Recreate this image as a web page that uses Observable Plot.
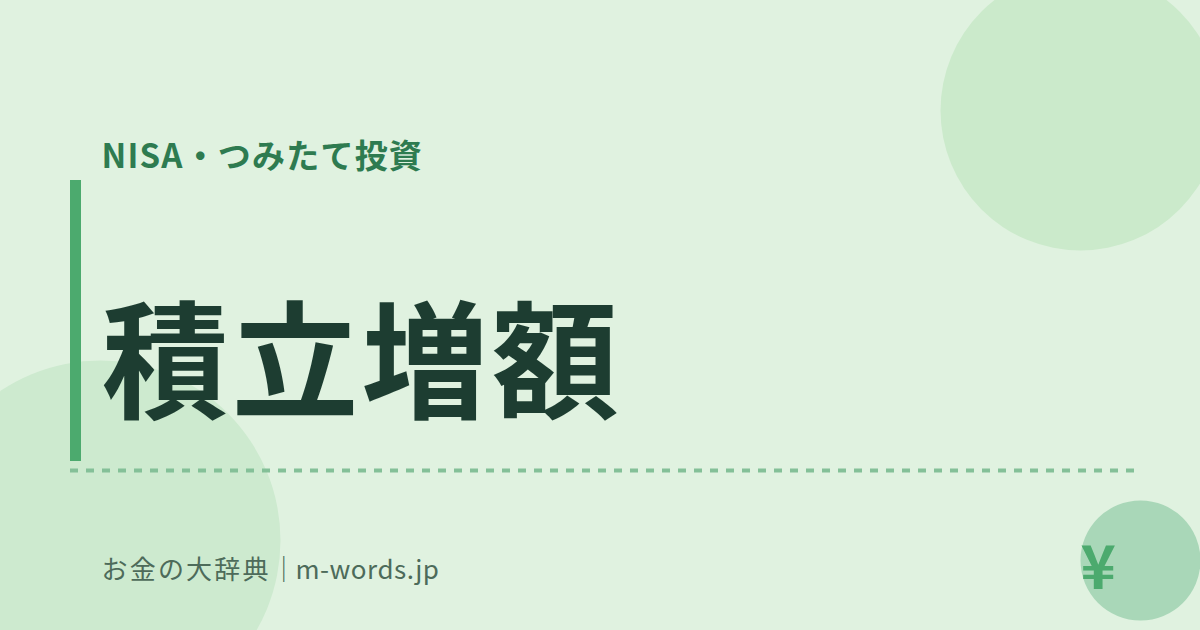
<!DOCTYPE html>
<html>
<head>
<meta charset="utf-8">
<script src="https://cdn.jsdelivr.net/npm/d3@7"></script>
<script src="https://cdn.jsdelivr.net/npm/@observablehq/plot@0.6"></script>
<style>
  html, body { margin: 0; padding: 0; background: #e0f2e0; overflow: hidden; }
  #chart { width: 1200px; height: 630px; }
</style>
</head>
<body>
<div id="chart"></div>
<script>
// Decorative circles
const circleX = [1080, 100, 1140];
const circleY = [110, 540, 560];
const circleR = [140, 180, 60];
const circleFill = ["#cbeacb", "#cdeacf", "#a9d7b8"];

// Texts
const kicker = "NISA・つみたて投資";
const title = "積立増額";
const footerSite = "お金の大辞典｜";
const footerUrl = "m-words.jp";
const yen = "¥";

// letter-spacing per text (px)
const spacing = new Map([[kicker, 1.2], [title, 3], [footerSite, 2.2], [footerUrl, 0.5]]);

const circles = circleX.map((x, i) => ({x, y: circleY[i], r: circleR[i], fill: circleFill[i]}));

const font = "'Noto Sans CJK JP', 'Noto Sans', sans-serif";

const chart = Plot.plot({
  width: 1200,
  height: 630,
  margin: 0,
  x: {domain: [0, 1200], range: [0, 1200], axis: null},
  y: {domain: [0, 630], range: [0, 630], axis: null},
  r: {type: "identity"},
  style: {background: "#e0f2e0", fontFamily: font, overflow: "hidden"},
  marks: [
    Plot.dot(circles, {x: "x", y: "y", r: "r", fill: "fill", stroke: null, clip: true}),
    Plot.rect([0], {x1: 70, x2: 81, y1: 180, y2: 461, fill: "#4caa6e"}),
    Plot.ruleY([470], {x1: 70, x2: 1136, stroke: "#84c098", strokeWidth: 4, strokeDasharray: "8,8"}),
    Plot.text([kicker], {x: 101, y: 157, text: d => d, textAnchor: "start", lineAnchor: "middle",
      fontSize: 33, fontWeight: 700, fill: "#2e7b50", fontFamily: font}),
    Plot.text([title], {x: 101, y: 368, text: d => d, textAnchor: "start", lineAnchor: "middle",
      fontSize: 127, fontWeight: 700, fill: "#1d3d31", fontFamily: font}),
    Plot.text([footerSite], {x: 101, y: 570, text: d => d, textAnchor: "start", lineAnchor: "middle",
      fontSize: 26, fontWeight: 400, fill: "#4d6b5a", fontFamily: font}),
    Plot.text([footerUrl], {x: 295, y: 570, text: d => d, textAnchor: "start", lineAnchor: "middle",
      fontSize: 26, fontWeight: 400, fill: "#4d6b5a", fontFamily: font}),
    Plot.text([yen], {x: 1080, y: 569, text: d => d, textAnchor: "start", lineAnchor: "middle",
      fontSize: 60, fontWeight: 700, fill: "#4caa6e", fontFamily: font})
  ]
});
d3.select(chart).selectAll("text").each(function() {
  const s = spacing.get(this.textContent);
  if (s !== undefined) this.style.letterSpacing = s + "px";
});
document.getElementById("chart").appendChild(chart);
</script>
</body>
</html>
